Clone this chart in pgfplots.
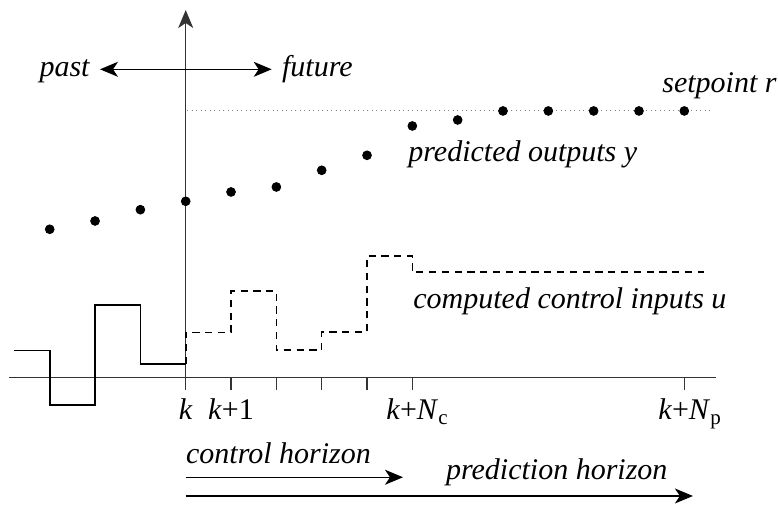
\documentclass[border=0pt]{standalone}
\usepackage{fontspec}
\setmainfont{Liberation Serif}
\usepackage{pgfplots}
\pgfplotsset{compat=1.18}
\usetikzlibrary{arrows.meta}
\begin{document}
\fontsize{15}{18}\selectfont
\begin{tikzpicture}
\begin{axis}[name=ax, hide axis, clip=false,
  x=22.665pt, y=22.665pt,
  xmin=-4.097, xmax=13.067, ymin=-2.808, ymax=8.332]
% axes
\draw[black!80, line width=0.6pt] (axis cs:-3.898,0) -- (axis cs:11.70,0);
\draw[black!80, line width=0.6pt, -{Stealth[length=9pt,width=7.5pt,inset=2.5pt]}] (axis cs:0,-0.27) -- (axis cs:0,8.111);
\foreach \t in {1,2,3,4,5,11} {
  \edef\tmp{\noexpand\draw[black!80, line width=0.6pt] (axis cs:\t,0) -- (axis cs:\t,-0.27);}\tmp
}
% setpoint
\addplot[gray, line width=0.6pt, dash pattern=on 0.5pt off 1.75pt] coordinates {(0.03,5.90) (11.57,5.90)};
% predicted outputs
\addplot[only marks, mark=*, mark size=2.2pt, black] coordinates {
(-3,3.274) (-2,3.457) (-1,3.706) (0,3.891) (1,4.097) (2,4.207) (3,4.575) (4,4.906)
(5,5.553) (6,5.685) (7,5.884) (8,5.884) (9,5.884) (10,5.884) (11,5.884)};
% past inputs
\addplot[const plot, black, line width=0.8pt] coordinates {
(-3.79,0.596) (-3,-0.602) (-2,1.604) (-1,0.302) (0,0.302)};
% future inputs
\addplot[const plot, black, line width=0.8pt, dash pattern=on 3.6pt off 2.8pt] coordinates {
(0,0.302) (0,1.0) (1,1.913) (2,0.604) (3,1.008) (4,2.685) (5,2.325) (11.43,2.325)};
% past/future arrow
\draw[black, line width=0.6pt, {Stealth[length=9pt,width=7.5pt,inset=2.5pt]}-{Stealth[length=9pt,width=7.5pt,inset=2.5pt]}] (axis cs:-1.891,6.803) -- (axis cs:1.897,6.803);
\node[anchor=base east, inner sep=0pt, font=\itshape] at (axis cs:-2.112,6.634) {past};
\node[anchor=base west, inner sep=0pt, font=\itshape] at (axis cs:2.118,6.634) {future};
% labels
\node[anchor=base west, inner sep=0pt, font=\itshape] at (axis cs:10.507,6.281) {setpoint r};
\node[anchor=base west, inner sep=0pt, font=\itshape] at (axis cs:4.904,4.759) {predicted outputs y};
\node[anchor=base west, inner sep=0pt, font=\itshape] at (axis cs:5.015,1.518) {computed control inputs u};
% tick labels
\node[anchor=base, inner sep=0pt] at (axis cs:0,-0.933) {\textit{k}};
\node[anchor=base, inner sep=0pt] at (axis cs:1,-0.933) {\textit{k}+1};
\node[anchor=base, inner sep=0pt] at (axis cs:5,-0.933) {\textit{k}+\textit{N}\rlap{\textsubscript{c}}};
\node[anchor=base, inner sep=0pt] at (axis cs:11,-0.933) {\textit{k}+\textit{N}\rlap{\textsubscript{p}}};
% horizons
\node[anchor=base west, inner sep=0pt, font=\itshape] at (axis cs:0,-1.888) {control horizon};
\draw[black, line width=0.6pt, -{Stealth[length=9pt,width=7.5pt,inset=2.5pt]}] (axis cs:0,-2.197) -- (axis cs:4.794,-2.197);
\node[anchor=base west, inner sep=0pt, font=\itshape] at (axis cs:5.736,-2.257) {prediction horizon};
\draw[black, line width=0.6pt, -{Stealth[length=9pt,width=7.5pt,inset=2.5pt]}] (axis cs:0,-2.610) -- (axis cs:11.19,-2.610);
\end{axis}
\pgfresetboundingbox
\path (ax.south west) rectangle (ax.north east);
\end{tikzpicture}
\end{document}
